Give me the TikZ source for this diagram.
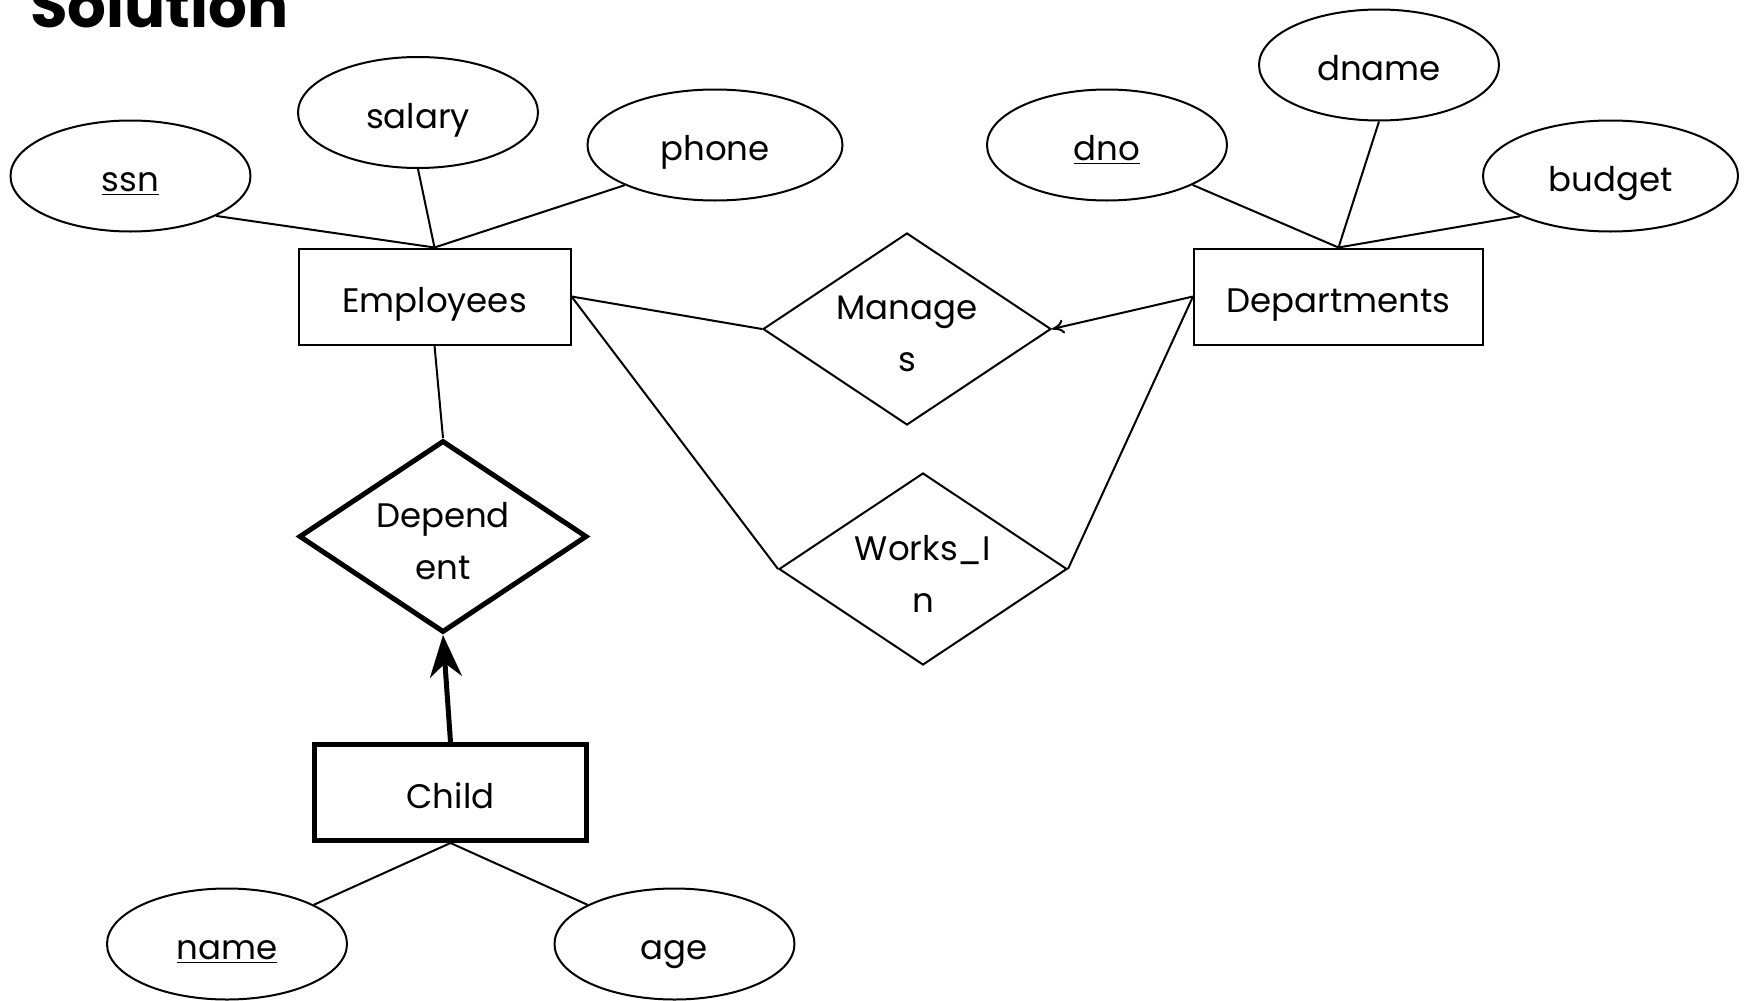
\documentclass[tikz,border=0pt]{standalone}
\usepackage{fontspec}
\setmainfont{Poppins}
\usepackage{tikz}
\usetikzlibrary{arrows,arrows.meta,shapes,shapes.geometric,calc}

\begin{document}
\begin{tikzpicture}[x = 0.5pt, y = -0.5pt,
    attr/.style = {draw, ellipse, line width = 1pt, inner sep = 0pt, minimum width = 120pt, minimum height = 55.5pt, text height = 18.5pt, text depth = 3pt, font = \fontsize{17}{26}\selectfont},
    entity/.style = {draw, rectangle, line width = 1pt, inner sep = 0pt, minimum width = 136pt, minimum height = 48pt, text height = 18.5pt, text depth = 3pt, font = \fontsize{17}{26}\selectfont},
    rel/.style = {draw, diamond, aspect = 1.5, line width = 1pt, inner sep = 0pt, minimum width = 144pt, minimum height = 96pt, align = center, font = \fontsize{17}{26}\selectfont},
    link/.style = {line width = 1pt}]
    \useasboundingbox (0,0) rectangle (1747,1001);
    \node[anchor = base west, font = \fontsize{30.5}{36}\selectfont\bfseries, inner sep = 0pt] (title) at (30,27) {Solution};

    \node[entity] (emp) at (434.5,296.5) {Employees};
    \node[entity, minimum width = 144.5pt] (dept) at (1338.5,296.5) {Departments};
    \node[entity, line width = 2.5pt] (child) at (450.5,792.5) {Child};

    \node[attr] (ssn) at (130.5,176) {\underline{ssn}};
    \node[attr] (salary) at (418,112.5) {salary};
    \node[attr, minimum width = 127.5pt] (phone) at (715,145) {phone};
    \node[attr] (dno) at (1107,145) {\underline{dno}};
    \node[attr] (dname) at (1379,65) {dname};
    \node[attr, minimum width = 127.5pt] (budget) at (1610.5,176) {budget};
    \node[attr] (name) at (227,944) {\underline{name}};
    \node[attr] (age) at (674.5,944) {age};

    \node[rel] (manages) at (907,329) {\rule{0pt}{17pt}Manage\\s};
    \node[rel] (works) at (923,569) {\rule{0pt}{17pt}Works\_I\\n};
    \node[rel, line width = 2.5pt] (dep) at (443,536.5) {\rule{0pt}{17pt}Depend\\ent};

    \draw[link] (ssn.-25) -- (emp.north);
    \draw[link] (salary.south) -- (emp.north);
    \draw[link] (phone.-156) -- (emp.north);
    \draw[link] (dno.-25) -- (dept.north);
    \draw[link] (dname.south) -- (dept.north);
    \draw[link] (budget.-156) -- (dept.north);
    \draw[link] (emp.east) -- (manages.west);
    \draw[link] (emp.east) -- (works.west);
    \draw[link, -{To[length = 6pt, width = 7pt]}] (dept.west) -- (manages.east);
    \draw[link] (dept.west) -- (works.east);
    \draw[link] (emp.south) -- (dep.north);
    \draw[->, >={Stealth[length = 21pt, width = 16pt]}, line width = 2.5pt] (child.north) -- (dep.south);
    \draw[link] (child.south) -- (name);
    \draw[link] (child.south) -- (age);
  \end{tikzpicture}
\end{document}
